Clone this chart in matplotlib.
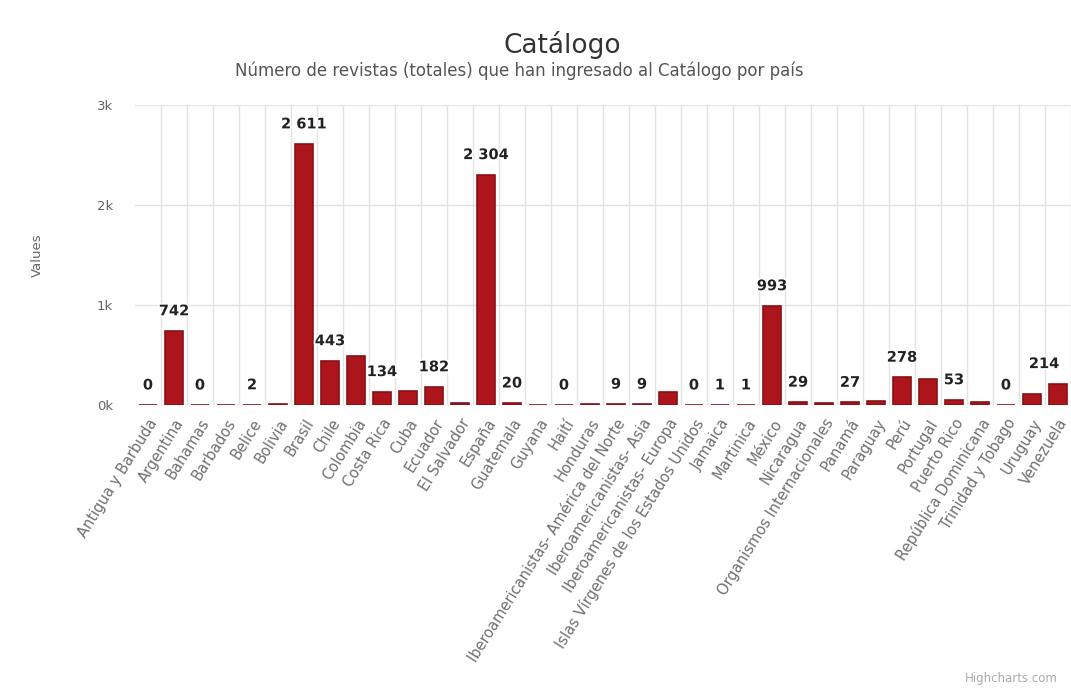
import matplotlib
matplotlib.use("Agg")
import matplotlib.pyplot as plt
import matplotlib.patheffects as pe

countries = ['Antigua y Barbuda', 'Argentina', 'Bahamas', 'Barbados', 'Belice', 'Bolivia',
             'Brasil', 'Chile', 'Colombia', 'Costa Rica', 'Cuba', 'Ecuador', 'El Salvador',
             'España', 'Guatemala', 'Guyana', 'Haití', 'Honduras',
             'Iberoamericanistas- América del Norte', 'Iberoamericanistas- Asia',
             'Iberoamericanistas- Europa', 'Islas Vírgenes de los Estados Unidos', 'Jamaica',
             'Martinica', 'México', 'Nicaragua', 'Organismos Internacionales', 'Panamá',
             'Paraguay', 'Perú', 'Portugal', 'Puerto Rico', 'República Dominicana',
             'Trinidad y Tobago', 'Uruguay', 'Venezuela']
revistas = [0, 742, 0, 1, 2, 15,
            2611, 443, 495, 134, 140, 182, 22,
            2304, 20, 2, 0, 8,
            9, 9,
            130, 0, 1,
            1, 993, 29, 25, 27,
            45, 278, 265, 53, 30,
            0, 115, 214]
# which values have a visible data label in the original (others hidden by overlap)
label_shown = [1, 1, 1, 0, 1, 0,
               1, 1, 0, 1, 0, 1, 0,
               1, 1, 0, 1, 0,
               1, 1,
               0, 1, 1,
               1, 1, 1, 0, 1,
               0, 1, 0, 1, 0,
               1, 0, 1]
yticks = [0, 1000, 2000, 3000]
ytick_labels = ['0k', '1k', '2k', '3k']

fig = plt.figure(figsize=(10.71, 6.92), dpi=100)
ax = fig.add_axes([135 / 1071, 1 - 405 / 692, (1071 - 135) / 1071, 300 / 692])

x = list(range(len(countries)))
ax.bar(x, revistas, width=0.72, color='#ad151c', edgecolor='#8a1016', linewidth=1.2, zorder=3)

for i, v in enumerate(revistas):
    if label_shown[i]:
        txt = '{:,}'.format(v).replace(',', ' ')
        dx = -10 if i == len(revistas) - 1 else 0  # keep last label inside the figure
        ax.annotate(txt, (i, v), xytext=(dx, 9), textcoords='offset points',
                    ha='center', va='bottom', fontsize=10.5, fontweight='bold', color='#222222',
                    path_effects=[pe.withStroke(linewidth=2.5, foreground='white')], zorder=4)

ax.set_xlim(-0.5, len(countries) - 0.5)
ax.set_ylim(0, 3000)
ax.set_yticks(yticks)
ax.set_yticklabels(ytick_labels)
ax.set_xticks(x)
ax.set_xticklabels(countries, rotation=58, ha='right', va='top', rotation_mode='anchor')
ax.set_xticks([i + 0.5 for i in x], minor=True)

ax.tick_params(axis='x', which='both', length=0, labelsize=10.5, labelcolor='#707070', pad=8)
ax.tick_params(axis='y', length=0, labelsize=9.5, labelcolor='#666666', pad=16)
ax.grid(axis='y', color='#e3e3e3', linewidth=1, zorder=0)
ax.grid(axis='x', which='minor', color='#e3e3e3', linewidth=1, zorder=0)
for s in ax.spines.values():
    s.set_visible(False)

ax.set_ylabel('Values', color='#666666', fontsize=9.5, labelpad=38)

fig.text(0.525, 0.935, 'Catálogo', ha='center', va='center', fontsize=19, color='#333333')
fig.text(0.485, 0.898, 'Número de revistas (totales) que han ingresado al Catálogo por país',
         ha='center', va='center', fontsize=12, color='#555555')
fig.text(0.988, 0.01, 'Highcharts.com', ha='right', va='bottom', fontsize=8.5, color='#aaaaaa')

fig.savefig('out.png', dpi=100)
